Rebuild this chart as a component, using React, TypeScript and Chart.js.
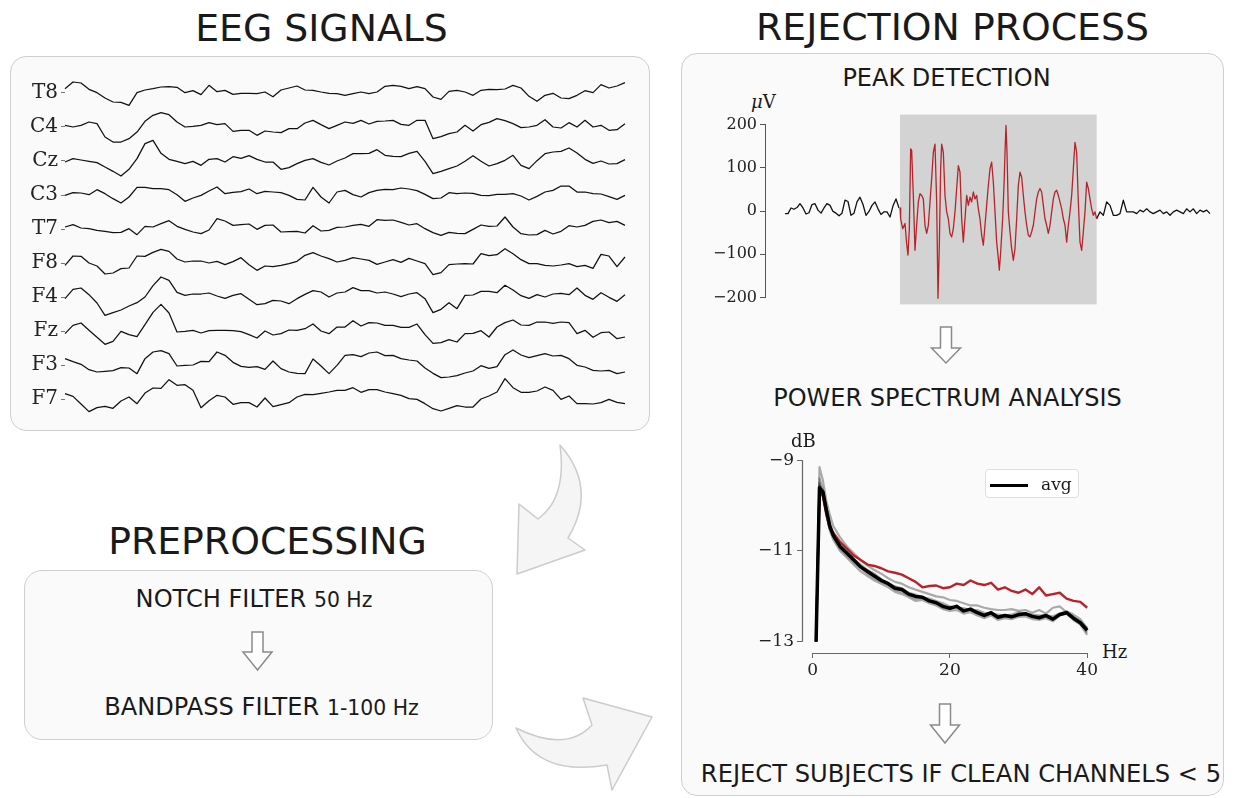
import React, { useEffect, useRef } from "react";
import { Chart, registerables } from "chart.js";

Chart.register(...registerables);

// ---------------- EEG traces (arbitrary units, 71 samples each) ----------------
const channels = ["T8", "C4", "Cz", "C3", "T7", "F8", "F4", "Fz", "F3", "F7"];

const eegT8 = [13, 33, 30, 11, 1, -15, -27, -28, -37, 1, 9, 13, 18, 19, 17, 1, 7, -5, 23, 4, 8, -4, -1, -1, -2, 3, -11, 9, 15, 21, 9, 8, 3, -1,
  -2, -7, -2, 3, -2, 3, 20, 23, 20, 13, 19, 13, -12, -19, 5, 8, 3, -7, 8, 11, 10, 12, 23, 15, -10, -25, -7, -1, -15, -17, -7, 7, 1, 25, 15, 21, 31];
const eegC4 = [5, 0, 5, 15, 10, -30, -45, -45, -35, -15, 17, 35, 43, 37, 15, 0, 2, 5, 13, 7, 10, -13, -10, -10, -25, -12, -15, -17, -5, -5, 12, 20, 7, -5,
  5, 15, 11, 20, 9, 17, 18, 20, 8, 5, 20, 20, -35, -29, -20, -15, 5, -12, 7, 14, 25, 19, 10, -2, 0, 5, 22, 0, -3, 13, 0, 20, 0, 5, -10, -8, 10];
const eegCz = [-3, 7, 3, -1, -5, -18, -31, -45, -25, 7, 52, 62, 23, 5, -1, -8, -1, -13, 5, 7, -3, 13, 8, 16, 5, -3, -3, -25, -20, -8, 2, 7, -4, -12,
  0, 9, 22, 22, 23, 34, 17, 14, 13, 23, 29, -1, -38, -31, -23, -15, -1, 16, -1, -15, -8, 2, 17, -13, -23, 1, 22, 27, 29, 39, 24, 5, -7, 0, -9, -8, 4];
const eegC3 = [-1, 7, 6, 1, 16, 4, -11, -24, -6, 23, 23, 19, 19, 16, 1, -19, -9, -1, 12, 24, 4, 8, 10, 18, 4, 11, 9, 7, -1, -13, -15, 23, -6, -24,
  9, 14, 1, -6, 7, 14, 17, 16, 21, 18, 13, 2, -11, -9, 7, 4, 6, 5, -1, -2, 2, 2, 4, -3, -15, -4, 9, 14, 27, 27, 9, 9, 4, 3, -5, -13, -1];
const eegT7 = [6, 13, 3, 1, -4, -7, -11, -10, 1, -17, 8, 6, 16, 25, 8, -1, -9, -14, -3, 31, 24, 11, 13, 15, -1, 11, 12, -9, -8, -7, -12, 10, -6, -4,
  5, 6, 11, 14, 8, 28, 26, 27, 20, 12, 16, 1, -11, -19, -10, -13, -14, -1, 12, 8, 9, 36, 6, -14, -18, -17, -4, -15, -7, 10, 6, 11, 23, 27, 19, 23, 11];
const eegF8 = [-7, 21, 20, 0, -9, -33, -30, -17, -15, 21, 20, 32, 41, 35, 12, 3, 6, 6, 0, 5, -5, 4, 16, -5, -22, -9, -11, -7, -2, 5, 23, 31, 21, 13,
  3, 8, 16, 12, 8, -4, 3, 10, 2, 14, 6, -2, -35, -29, -5, -3, -2, -3, 28, 22, 25, 43, 28, 10, -2, -2, -7, -9, -6, -2, -11, -7, -16, 26, 21, -11, 18];
const eegF4 = [-5, 23, 27, 7, -18, -55, -47, -39, -27, -17, 0, 34, 60, 50, 14, 5, 9, 9, 12, 3, -4, 5, 10, -7, -23, -20, -10, -12, -20, -5, 8, 19, 15, 0,
  12, 15, 28, 19, 19, 12, 15, 9, 1, 9, 13, -5, -47, -37, -17, -35, 5, 6, 17, 17, 13, 35, 21, 4, -4, 7, 0, 9, 11, 7, 27, 5, -7, 13, -1, -13, 7];
const eegFz = [-8, 17, 24, 2, -19, -40, -31, -1, -11, -17, 19, 56, 80, 54, -3, -1, 2, -6, 1, 2, 2, 1, -2, -11, -21, 0, -12, -8, 3, 2, 7, 21, 0, -8,
  12, 12, 31, 15, 25, 24, 17, 17, 11, 11, 21, -11, -37, -35, -26, -33, -8, -7, 1, -18, 12, 25, 33, 18, 17, 27, 27, 23, 27, 25, -8, 2, -19, -5, -3, -23, -18];
const eegF3 = [19, 10, 2, -14, -21, -19, -17, -8, -9, -26, 19, 39, 43, 34, -3, -1, 0, 11, 10, 39, 29, 8, -4, -7, -5, -13, 12, -11, -21, -25, -26, 18, -3, -26,
  -1, 29, 31, 25, 36, 39, 28, 29, 19, 15, 12, -9, -25, -38, -36, -32, -24, -18, -2, -10, -5, 31, 45, 30, 22, 28, 34, 27, 29, 19, -1, -6, -16, -18, -16, -26, -21];
const eegF7 = [16, 8, -15, -38, -26, -22, -28, -6, 6, -14, 18, 33, 32, 58, 41, 43, 26, -26, -5, 11, 6, -16, -11, -11, -24, 3, -23, -17, -11, 6, 14, 13, 17, 21,
  26, 26, 34, 20, 28, 28, 21, 16, 11, 1, -1, -14, -29, -36, -28, -20, -24, -24, 0, 9, 21, 61, 34, 20, 20, 24, 36, 26, -1, 9, -14, -14, -15, -11, -1, -10, -14];

const eegSeries = [eegT8, eegC4, eegCz, eegC3, eegT7, eegF8, eegF4, eegFz, eegF3, eegF7];
const EEG_SPACING = 102;

// ---------------- Peak detection (µV) ----------------
const peakTicks = [200, 100, 0, -100, -200];
const peakPreStep = 9;
const peakPre = [-6, -6, 7, 4, 8, 17, 7, -7, -4, 15, 17, 2, -5, 7, 17, 13, -1, -5, -11, -5, 25, 22, -10, -5, 21, 32, 15, -10, -1, 13,
  21, 5, -8, -2, -2, -14, 12, 28, 7];
const peakRedT = [345, 347, 353, 360, 365, 369, 373, 377, 380, 385, 390, 395, 400, 405, 410, 415, 420, 425, 430, 435, 440, 445, 450, 455,
  459, 463, 467, 470, 475, 480, 485, 490, 495, 500, 505, 510, 515, 520, 525, 530, 535, 540, 545, 550, 555, 560, 565, 570, 575, 580,
  585, 590, 595, 600, 605, 610, 615, 620, 625, 630, 635, 640, 643, 647, 653, 657, 660, 663, 666, 670, 675, 680, 685, 690, 695, 700,
  705, 710, 715, 720, 725, 730, 735, 740, 745, 750, 755, 760, 765, 770, 775, 780, 785, 790, 795, 800, 805, 810, 815, 820, 825, 830,
  835, 840, 845, 850, 855, 860, 865, 870, 875, 880, 885, 890, 895, 900, 905, 910, 915, 920, 925, 930, 935];
const peakRedV = [7, -18, -41, -29, -75, -102, -41, 144, 140, 36, -91, -33, 21, 40, 36, 28, -33, -52, -33, 21, 75, 136, 155, 21,
  -202, -79, 98, 155, 136, 36, -2, -18, -52, -60, -41, -2, 52, 105, 90, -18, -72, -18, 36, 13, 32, 21, 44, 28, 36, 5,
  -18, -56, -79, -33, 13, 59, 98, 113, 67, -2, -72, -110, -137, -95, -18, 59, 136, 198, 136, -2, -48, -87, -114, -87, -18, 59,
  90, 78, 36, -2, -33, -56, -60, -48, -33, -2, 28, 44, 52, 44, 13, -18, -33, -52, -33, -2, 28, 44, 48, 36, 21, 5,
  -18, -33, -72, -33, -2, 36, 98, 159, 136, 21, -72, -91, -48, -2, 67, 52, 28, 5, -10, -2, -18];
const peakPostStart = 935;
const peakPostStep = 10;
const peakPost = [-18, -2, -10, 21, 13, -10, -10, -6, 25, -2, -2, -2, -6, 2, -2, 5, -2, -6, -2, 2, -6, -2, -10, -2, 2, -2, -6, 5, -2, 5,
  -6, 2, -2, 2, -6];
const peakShadeFrom = 345;
const peakShadeTo = 935;

// ---------------- Power spectrum (dB) ----------------
const psdFreq = [0.5, 1, 1.5, 2, 2.5, 3, 4, 5, 6, 7, 8, 9, 10, 11, 12, 13, 14, 15, 16, 17, 18, 19, 20, 21, 22, 23, 24, 25, 26, 27, 28, 29, 30,
  31, 32, 33, 34, 35, 36, 37, 38, 39, 40];
const psdAvg = [-13.0, -9.6, -9.7, -10.1, -10.45, -10.65, -10.9, -11.05, -11.2, -11.35, -11.45, -11.55, -11.65, -11.72, -11.82, -11.85,
  -11.95, -12.0, -12.02, -12.1, -12.14, -12.22, -12.26, -12.22, -12.32, -12.28, -12.36, -12.42, -12.36, -12.46, -12.42, -12.45, -12.4,
  -12.38, -12.44, -12.47, -12.42, -12.5, -12.4, -12.36, -12.48, -12.58, -12.75];
const psdRejected = [-13.0, -9.65, -9.8, -10.2, -10.5, -10.6, -10.8, -10.95, -11.1, -11.2, -11.3, -11.33, -11.38, -11.45, -11.48, -11.52,
  -11.6, -11.68, -11.8, -11.77, -11.76, -11.82, -11.8, -11.72, -11.75, -11.65, -11.72, -11.75, -11.7, -11.85, -11.8, -11.88, -11.92,
  -11.85, -11.95, -11.8, -11.98, -11.95, -11.92, -12.05, -12.1, -12.12, -12.25];
const psdChanA = [-13.0, -9.15, -9.45, -9.9, -10.2, -10.45, -10.7, -10.9, -11.05, -11.2, -11.32, -11.42, -11.5, -11.6, -11.68, -11.72,
  -11.8, -11.85, -11.9, -11.95, -12.0, -12.02, -12.08, -12.1, -12.15, -12.2, -12.2, -12.25, -12.28, -12.3, -12.3, -12.28, -12.32,
  -12.3, -12.36, -12.3, -12.38, -12.25, -12.22, -12.35, -12.45, -12.55, -12.7];
const psdChanB = [-13.0, -9.5, -9.75, -10.2, -10.55, -10.75, -11.0, -11.15, -11.3, -11.45, -11.55, -11.65, -11.72, -11.8, -11.9, -11.95,
  -12.02, -12.1, -12.08, -12.15, -12.2, -12.28, -12.32, -12.3, -12.38, -12.35, -12.42, -12.48, -12.42, -12.52, -12.48, -12.5, -12.45,
  -12.44, -12.5, -12.52, -12.48, -12.55, -12.42, -12.38, -12.52, -12.62, -12.85];
const psdChanC = [-13.0, -9.4, -9.65, -10.05, -10.4, -10.6, -10.85, -11.0, -11.18, -11.3, -11.42, -11.5, -11.62, -11.7, -11.78, -11.82,
  -11.92, -11.96, -12.02, -12.05, -12.1, -12.15, -12.22, -12.25, -12.26, -12.3, -12.3, -12.36, -12.38, -12.4, -12.42, -12.4, -12.35,
  -12.38, -12.4, -12.42, -12.42, -12.44, -12.38, -12.33, -12.4, -12.5, -12.7];
const psdChanD = [-13.0, -9.55, -9.8, -10.15, -10.5, -10.7, -10.95, -11.1, -11.25, -11.38, -11.5, -11.6, -11.68, -11.75, -11.85, -11.9,
  -11.98, -12.05, -12.04, -12.1, -12.15, -12.25, -12.28, -12.2, -12.33, -12.3, -12.38, -12.44, -12.38, -12.48, -12.44, -12.46, -12.42,
  -12.4, -12.46, -12.48, -12.44, -12.52, -12.4, -12.34, -12.48, -12.58, -12.8];
const psdChannels = [psdChanA, psdChanB, psdChanC, psdChanD];
const psdYTicks = [-9, -11, -13];
const psdXTicks = [0, 20, 40];

// ---------------- helpers ----------------
const SANS = "'DejaVu Sans', sans-serif";
const SERIF = "'DejaVu Serif', serif";
const fmtMinus = (v: number) => (v < 0 ? "\u2212" + Math.abs(v) : String(v));

function useChart(build: () => any) {
  const ref = useRef<HTMLCanvasElement>(null);
  useEffect(() => {
    if (!ref.current) return;
    const chart = new Chart(ref.current, build());
    return () => chart.destroy();
  }, []);
  return ref;
}

function Canvas({ cref, left, top, width, height }: any) {
  return (
    <canvas
      ref={cref}
      width={width}
      height={height}
      style={{ position: "absolute", left, top, width, height }}
    />
  );
}

function Txt({ x, baseline, size, family = SANS, align = "center", children, style }: any) {
  const top = baseline - 0.846 * size;
  const common: any = {
    position: "absolute",
    top,
    fontSize: size,
    lineHeight: `${size}px`,
    fontFamily: family,
    whiteSpace: "nowrap",
    color: "#1a1a1a",
    ...style,
  };
  if (align === "center") {
    return <div style={{ ...common, left: x - 400, width: 800, textAlign: "center" }}>{children}</div>;
  }
  return <div style={{ ...common, left: x }}>{children}</div>;
}

// ---------------- charts ----------------
function EegChart() {
  const ref = useChart(() => ({
    type: "line",
    data: {
      datasets: eegSeries.map((vals, c) => ({
        data: vals.map((v, i) => ({ x: i, y: v - c * EEG_SPACING })),
        borderColor: "#111",
        borderWidth: 1.25,
        pointRadius: 0,
        tension: 0,
        borderJoinStyle: "round",
        clip: 8,
      })),
    },
    options: {
      animation: false,
      responsive: false,
      events: [],
      layout: { padding: { top: 16, bottom: 16, right: 3, left: 0 } },
      plugins: { legend: { display: false }, tooltip: { enabled: false } },
      scales: {
        x: { type: "linear", display: false, min: 0, max: eegT8.length - 1 },
        y: {
          type: "linear",
          min: -987,
          max: 75,
          afterFit: (s: any) => {
            s.width = 53;
          },
          afterBuildTicks: (s: any) => {
            s.ticks = channels.map((_, c) => ({ value: -c * EEG_SPACING }));
          },
          ticks: {
            autoSkip: false,
            padding: 3,
            color: "#222",
            font: { family: "DejaVu Serif", size: 20 },
            callback: (v: number) => channels[Math.round(-v / EEG_SPACING)],
          },
          grid: { drawOnChartArea: false, drawTicks: true, tickLength: 4, color: "#777" },
          border: { display: false },
        },
      },
    },
  }));
  return <Canvas cref={ref} left={12} top={52} width={616} height={386} />;
}

function PeakChart() {
  const shade = {
    id: "shade",
    beforeDatasetsDraw(chart: any) {
      const { ctx, chartArea, scales } = chart;
      const x0 = scales.x.getPixelForValue(peakShadeFrom);
      const x1 = scales.x.getPixelForValue(peakShadeTo);
      ctx.save();
      ctx.fillStyle = "#d3d3d3";
      ctx.fillRect(x0, chartArea.top - 10, x1 - x0, chartArea.bottom - chartArea.top + 17);
      ctx.restore();
    },
  };
  const ref = useChart(() => ({
    type: "line",
    data: {
      datasets: [
        {
          data: peakPre.map((v, i) => ({ x: i * peakPreStep, y: v })),
          borderColor: "#111",
          borderWidth: 1.3,
        },
        {
          data: peakRedV.map((v, i) => ({ x: peakRedT[i], y: v })),
          borderColor: "#b8232a",
          borderWidth: 1.3,
        },
        {
          data: peakPost.map((v, i) => ({ x: peakPostStart + i * peakPostStep, y: v })),
          borderColor: "#111",
          borderWidth: 1.3,
        },
      ].map((d) => ({ ...d, pointRadius: 0, tension: 0, borderJoinStyle: "round", clip: 10 })),
    },
    options: {
      animation: false,
      responsive: false,
      events: [],
      layout: { padding: { top: 12, bottom: 12, right: 4, left: 0 } },
      plugins: { legend: { display: false }, tooltip: { enabled: false } },
      scales: {
        x: { type: "linear", display: false, min: -60, max: 1287 },
        y: {
          type: "linear",
          min: -200,
          max: 200,
          afterFit: (s: any) => {
            s.width = 65;
          },
          afterBuildTicks: (s: any) => {
            s.ticks = peakTicks.map((v) => ({ value: v }));
          },
          ticks: {
            autoSkip: false,
            padding: 3,
            color: "#222",
            font: { family: "DejaVu Serif", size: 16 },
            callback: (v: number) => fmtMinus(v),
          },
          grid: { drawOnChartArea: false, drawTicks: true, tickLength: 5, color: "#555" },
          border: { display: true, color: "#555", width: 1 },
        },
      },
    },
    plugins: [shade],
  }));
  return <Canvas cref={ref} left={700} top={112} width={518} height={198} />;
}

function PsdChart() {
  const spines = {
    id: "spines",
    afterDraw(chart: any) {
      const { ctx, chartArea, scales } = chart;
      ctx.save();
      ctx.strokeStyle = "#666";
      ctx.lineWidth = 1.2;
      const x = Math.round(chartArea.left) + 0.5;
      ctx.beginPath();
      ctx.moveTo(x, scales.y.getPixelForValue(psdYTicks[0]));
      ctx.lineTo(x, scales.y.getPixelForValue(psdYTicks[psdYTicks.length - 1]));
      ctx.stroke();
      const y = Math.round(chartArea.bottom) + 0.5;
      ctx.beginPath();
      ctx.moveTo(scales.x.getPixelForValue(psdXTicks[0]), y);
      ctx.lineTo(scales.x.getPixelForValue(psdXTicks[psdXTicks.length - 1]), y);
      ctx.stroke();
      ctx.restore();
    },
  };
  const line = (vals: number[], color: string, width: number, order: number) => ({
    data: vals.map((v, i) => ({ x: psdFreq[i], y: v })),
    borderColor: color,
    borderWidth: width,
    pointRadius: 0,
    tension: 0,
    borderJoinStyle: "round",
    clip: 10,
    order,
  });
  const ref = useChart(() => ({
    type: "line",
    data: {
      datasets: [
        line(psdAvg, "#000", 3.5, 0),
        line(psdRejected, "#b8232a", 2.4, 1),
        ...psdChannels.map((c) => line(c, "rgba(50,50,50,0.4)", 2.2, 2)),
      ],
    },
    options: {
      animation: false,
      responsive: false,
      events: [],
      layout: { padding: { top: 12, bottom: 0, right: 12, left: 0 } },
      plugins: { legend: { display: false }, tooltip: { enabled: false } },
      scales: {
        x: {
          type: "linear",
          min: -1.55,
          max: 40,
          afterFit: (s: any) => {
            s.height = 30;
          },
          afterBuildTicks: (s: any) => {
            s.ticks = psdXTicks.map((v) => ({ value: v }));
          },
          ticks: {
            autoSkip: false,
            maxRotation: 0,
            padding: 2,
            color: "#222",
            font: { family: "DejaVu Serif", size: 17 },
            callback: (v: number) => fmtMinus(v),
          },
          grid: { drawOnChartArea: false, drawTicks: true, tickLength: 5, color: "#666" },
          border: { display: false },
        },
        y: {
          type: "linear",
          min: -13.247,
          max: -9,
          afterFit: (s: any) => {
            s.width = 72;
          },
          afterBuildTicks: (s: any) => {
            s.ticks = psdYTicks.map((v) => ({ value: v }));
          },
          ticks: {
            autoSkip: false,
            padding: 3,
            color: "#222",
            font: { family: "DejaVu Serif", size: 17 },
            callback: (v: number) => fmtMinus(v),
          },
          grid: { drawOnChartArea: false, drawTicks: true, tickLength: 5, color: "#666" },
          border: { display: false },
        },
      },
    },
    plugins: [spines],
  }));
  return <Canvas cref={ref} left={730} top={447} width={370} height={236} />;
}

// ---------------- arrows ----------------
function DownArrow({ x, y0, y1, y2 }: any) {
  const s = 5.5;
  const h = 14.5;
  const d = `M${x - s},${y0} L${x + s},${y0} L${x + s},${y1} L${x + h},${y1} L${x},${y2} L${x - h},${y1} L${x - s},${y1} Z`;
  return <path d={d} fill="#fff" stroke="#8a8a8a" strokeWidth={1.5} strokeLinejoin="miter" />;
}

export default function App() {
  const panel: any = {
    position: "absolute",
    background: "#fafafa",
    border: "1.5px solid #cfcfcf",
    boxSizing: "border-box",
  };
  return (
    <div
      style={{
        position: "absolute",
        left: 0,
        top: 0,
        width: 1235,
        height: 798,
        background: "#ffffff",
        overflow: "hidden",
        fontFamily: SANS,
      }}
    >
      {/* panels */}
      <div style={{ ...panel, left: 10, top: 56, width: 640, height: 375, borderRadius: 16 }} />
      <div style={{ ...panel, left: 24, top: 570, width: 469, height: 170, borderRadius: 18 }} />
      <div style={{ ...panel, left: 681, top: 53, width: 543, height: 743, borderRadius: 16 }} />

      {/* arrows */}
      <svg width={1235} height={798} style={{ position: "absolute", left: 0, top: 0 }}>
        <path
          d="M560,445 Q598,488 568,538 L585,550 L517,574 L519,504 L538,519 Q567,498 560,445 Z"
          fill="#f5f5f5"
          stroke="#cccccc"
          strokeWidth={1.5}
          strokeLinejoin="round"
        />
        <path
          d="M516,728 Q538,777 607,765 L612,790 L652,717 L583,698 L592,725 Q566,753 516,728 Z"
          fill="#f5f5f5"
          stroke="#cccccc"
          strokeWidth={1.5}
          strokeLinejoin="round"
        />
        <DownArrow x={257.5} y0={632} y1={652} y2={670} />
        <DownArrow x={946} y0={327} y1={348} y2={363} />
        <DownArrow x={945} y0={704} y1={725} y2={743} />
      </svg>

      {/* titles */}
      <Txt x={321.5} baseline={42} size={37.8}>EEG SIGNALS</Txt>
      <Txt x={952.5} baseline={41} size={37.8}>REJECTION PROCESS</Txt>
      <Txt x={267.5} baseline={555} size={37.8}>PREPROCESSING</Txt>

      {/* preprocessing text */}
      <Txt x={254} baseline={607} size={24.1}>
        NOTCH FILTER <span style={{ fontSize: 20.4 }}>50 Hz</span>
      </Txt>
      <Txt x={261.5} baseline={715} size={24.1}>
        BANDPASS FILTER <span style={{ fontSize: 20.4 }}>1-100 Hz</span>
      </Txt>

      {/* rejection process text */}
      <Txt x={946.5} baseline={86} size={24}>PEAK DETECTION</Txt>
      <Txt x={947.5} baseline={406} size={24}>POWER SPECTRUM ANALYSIS</Txt>
      <Txt x={961} baseline={782} size={24.2}>REJECT SUBJECTS IF CLEAN CHANNELS &lt; 5</Txt>

      {/* charts */}
      <EegChart />
      <PeakChart />
      <PsdChart />

      {/* axis unit labels */}
      <Txt x={751} baseline={108} size={18} family={SERIF} align="left">
        <span style={{ fontStyle: "italic" }}>μ</span>V
      </Txt>
      <Txt x={791} baseline={447} size={18} family={SERIF} align="left">dB</Txt>
      <Txt x={1102} baseline={658} size={18} family={SERIF} align="left">Hz</Txt>

      {/* legend */}
      <div
        style={{
          position: "absolute",
          left: 985,
          top: 469,
          width: 94,
          height: 29,
          boxSizing: "border-box",
          border: "1px solid #dddddd",
          borderRadius: 4,
          background: "rgba(255,255,255,0.85)",
        }}
      />
      <div style={{ position: "absolute", left: 990, top: 483.5, width: 38, height: 3, background: "#000" }} />
      <Txt x={1041} baseline={490} size={17} family={SERIF} align="left">avg</Txt>
    </div>
  );
}
